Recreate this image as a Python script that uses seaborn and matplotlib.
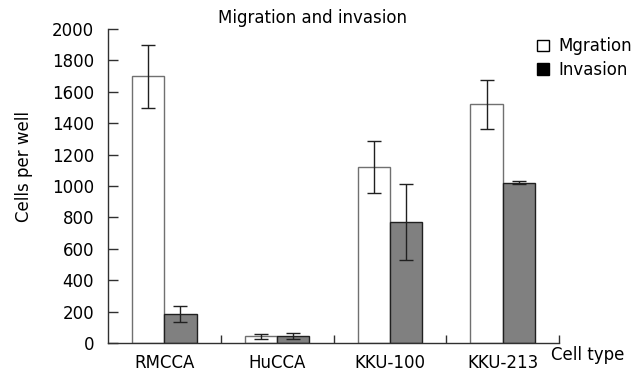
import matplotlib
matplotlib.use("Agg")
import matplotlib.pyplot as plt
import seaborn as sns
import pandas as pd
import numpy as np
from matplotlib.patches import Patch

categories = ["RMCCA", "HuCCA", "KKU-100", "KKU-213"]
migration = [1700, 42, 1120, 1520]
migration_err = [200, 15, 165, 155]
invasion = [185, 45, 770, 1020]
invasion_err = [52, 18, 240, 10]
series = ["Mgration", "Invasion"]

df = pd.DataFrame({
    "Cell type": categories * 2,
    "Cells": migration + invasion,
    "Series": [series[0]] * 4 + [series[1]] * 4,
})

sns.set_style("white")
plt.rcParams['font.family'] = ['DejaVu Sans']
plt.rcParams['text.color'] = 'black'
plt.rcParams['xtick.color'] = 'black'
plt.rcParams['ytick.color'] = 'black'

fig = plt.figure(figsize=(6.42, 3.74), dpi=100)
ax = fig.add_axes([108/642, 31/374, (559-108)/642, (343-29)/374])

sns.barplot(data=df, x="Cell type", y="Cells", hue="Series", order=categories,
            hue_order=series, palette=["white", "#808080"], width=0.57,
            ax=ax, legend=False, errorbar=None, saturation=1)

bar_containers = list(ax.containers)
errs = [migration_err, invasion_err]
vals = [migration, invasion]
for i, cont in enumerate(bar_containers):
    for j, bar in enumerate(cont.patches):
        bar.set_edgecolor("#707070" if i == 0 else "#202020")
        bar.set_linewidth(1.0)
        xc = bar.get_x() + bar.get_width() / 2
        ax.errorbar(xc, vals[i][j], yerr=errs[i][j], fmt="none",
                    ecolor="#202020", elinewidth=1.0, capsize=5, capthick=1.0, zorder=5)

ax.set_xlim(-0.5, 3.5)
ax.set_ylim(0, 2000)
ax.set_yticks(np.arange(0, 2001, 200))
ax.set_xticks(range(4))
ax.set_xticklabels(categories)
ax.set_xticks([0.5, 1.5, 2.5, 3.5], minor=True)
ax.tick_params(axis="x", which="major", bottom=True, length=0, labelsize=12, pad=8)
ax.tick_params(axis="x", which="minor", bottom=True, length=6, direction="in", width=1, color="#303030")
ax.tick_params(axis="y", which="major", left=True, length=7, direction="in", width=1, labelsize=12,
               color="#303030", pad=10)
ax.set_xlabel("")
ax.set_ylabel("")
for s in ["top", "right"]:
    ax.spines[s].set_visible(False)
for s in ["left", "bottom"]:
    ax.spines[s].set_color("#303030")
    ax.spines[s].set_linewidth(1.0)

fig.text(313/642, 1 - 18/374, "Migration and invasion", ha="center", va="center", fontsize=12)
fig.text(24/642, 1 - 167/374, "Cells per well", ha="center", va="center", rotation=90, fontsize=12)
fig.text(588/642, 1 - 355/374, "Cell type", ha="center", va="center", fontsize=12)

handles = [Patch(facecolor="white", edgecolor="black", label=series[0]),
           Patch(facecolor="black", edgecolor="black", label=series[1])]
fig.legend(handles=handles, loc="upper left", bbox_to_anchor=(529/642, 1 - 29/374),
           frameon=False, fontsize=12, handlelength=0.7, handleheight=0.7,
           handletextpad=0.55, labelspacing=0.35, borderpad=0)

fig.savefig("out.png", dpi=100)
